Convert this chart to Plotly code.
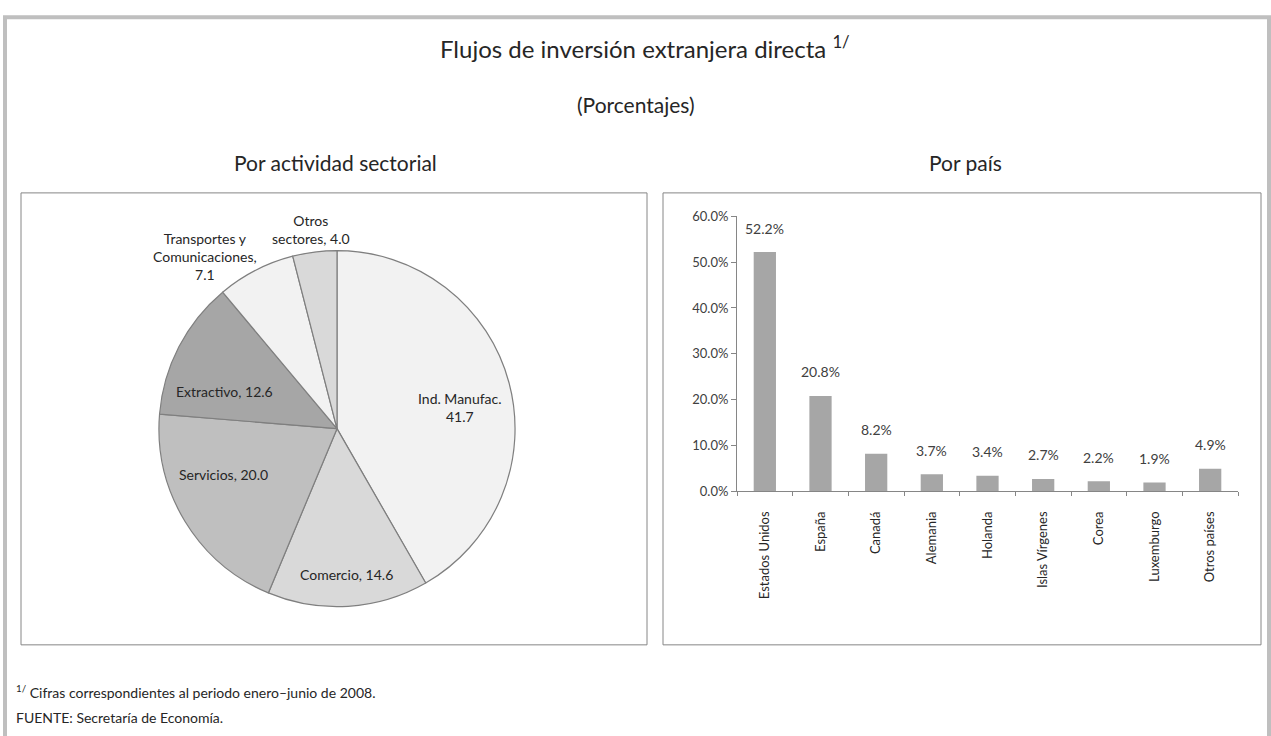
import math
import plotly.graph_objects as go

# ---- data ----
sectores = ["Ind. Manufac.", "Comercio", "Servicios", "Extractivo",
            "Transportes y Comunicaciones", "Otros sectores"]
sector_vals = [41.7, 14.6, 20.0, 12.6, 7.1, 4.0]
sector_text = ["Ind. Manufac.<br>{v}", "Comercio, {v}", "Servicios, {v}", "Extractivo, {v}",
               "Transportes y<br>Comunicaciones,<br>{v}", "Otros<br>sectores, {v}"]
sector_colors = ["#f2f2f2", "#d9d9d9", "#bfbfbf", "#a6a6a6", "#f2f2f2", "#d9d9d9"]
# label placement: (angle offset from slice middle in degrees, radius factor)
label_place = [(5.2, 0.693), (-0.2, 0.835), (8.9, 0.685), (-8.7, 0.657), (-9.7, 1.222), (0.0, 1.135)]

paises = ["Estados Unidos", "España", "Canadá", "Alemania", "Holanda",
          "Islas Vírgenes", "Corea", "Luxemburgo", "Otros países"]
pais_vals = [52.2, 20.8, 8.2, 3.7, 3.4, 2.7, 2.2, 1.9, 4.9]
y_ticks = [0, 10, 20, 30, 40, 50, 60]

W, H = 1271, 736
FONT = "Lato"
TXT = "#262626"

def px(x):
    return x / W

def py(y):
    return 1 - y / H

fig = go.Figure()

# pie
pie_l, pie_r, pie_t, pie_b = 155, 519, 248, 612
fig.add_trace(go.Pie(
    values=sector_vals, labels=sectores,
    sort=False, direction="clockwise", rotation=0,
    marker=dict(colors=sector_colors, line=dict(color="#7f7f7f", width=1.2)),
    textinfo="none", hoverinfo="label+value",
    domain=dict(x=[px(pie_l), px(pie_r)], y=[py(pie_b), py(pie_t)]),
    showlegend=False,
))

cx, cy, R = 337, 429.5, 180
total = sum(sector_vals)
cum = 0
annotations = []
for tpl, v, (da, f) in zip(sector_text, sector_vals, label_place):
    mid = (cum + v / 2) / total * 360 + da
    cum += v
    a = math.radians(mid)
    lx = cx + f * R * math.sin(a)
    ly = cy - f * R * math.cos(a)
    annotations.append(dict(
        x=px(lx), y=py(ly), xref="paper", yref="paper", text=tpl.format(v=f"{v:.1f}"),
        showarrow=False, align="center", xanchor="center", yanchor="middle",
        font=dict(family=FONT, size=14, color=TXT)))

# bars
fig.add_trace(go.Bar(
    x=paises, y=pais_vals, marker=dict(color="#a6a6a6", line=dict(width=0)),
    width=0.4, showlegend=False, xaxis="x", yaxis="y",
))
for cat, v in zip(paises, pais_vals):
    annotations.append(dict(
        x=cat, y=v, xref="x", yref="y", text=f"{v:.1f}%", showarrow=False,
        xanchor="center", yanchor="middle", yshift=24,
        font=dict(family=FONT, size=14, color="#404040")))

fig.update_layout(
    width=W, height=H,
    margin=dict(l=0, r=0, t=0, b=0),
    paper_bgcolor="white", plot_bgcolor="white",
    font=dict(family=FONT, color=TXT),
    xaxis=dict(domain=[px(737), px(1238)], anchor="y", showline=True,
               linecolor="#868686", linewidth=1, ticks="outside",
               tickson="boundaries", ticklen=4, tickcolor="#868686",
               tickangle=-90, ticklabelstandoff=14,
               tickfont=dict(family=FONT, size=13, color=TXT),
               showgrid=False, fixedrange=True),
    yaxis=dict(domain=[py(494), py(213)], anchor="x", range=[0, 60],
               tickvals=y_ticks, ticktext=[f"{t:.1f}%" for t in y_ticks],
               showline=True, linecolor="#868686", linewidth=1,
               ticks="outside", ticklen=5, tickcolor="#868686",
               tickfont=dict(family=FONT, size=13, color="#404040"),
               showgrid=False, zeroline=False, fixedrange=True),
)

shapes = [
    dict(type="rect", xref="paper", yref="paper", x0=px(5), x1=px(1269),
         y0=py(800), y1=py(9.5), line=dict(color="#bfbfbf", width=4)),
    dict(type="rect", xref="paper", yref="paper", x0=px(21), x1=px(647),
         y0=py(651), y1=py(189), line=dict(color="#868686", width=1)),
    dict(type="rect", xref="paper", yref="paper", x0=px(663), x1=px(1261),
         y0=py(651), y1=py(189), line=dict(color="#868686", width=1)),
]
fig.update_layout(shapes=shapes)

def note(x, y, text, size, anchor="center"):
    return dict(x=px(x), y=py(y), text=text, showarrow=False, xref="paper", yref="paper",
                xanchor=anchor, yanchor="middle", font=dict(family=FONT, size=size, color=TXT))

annotations += [
    note(645, 40, "Flujos de inversión extranjera directa <sup>1/</sup>", 24),
    note(636, 99, "(Porcentajes)", 21),
    note(335, 158, "Por actividad sectorial", 21),
    note(965, 158, "Por país", 21),
    note(14, 699, "<sup>1/</sup> Cifras correspondientes al periodo enero–junio de 2008.", 14, "left"),
    note(14, 725, "FUENTE: Secretaría de Economía.", 14, "left"),
]
fig.update_layout(annotations=annotations)

fig.write_html("out.html", config={"displayModeBar": False},
               post_script="document.body.style.margin='0';document.body.style.overflow='hidden';")
